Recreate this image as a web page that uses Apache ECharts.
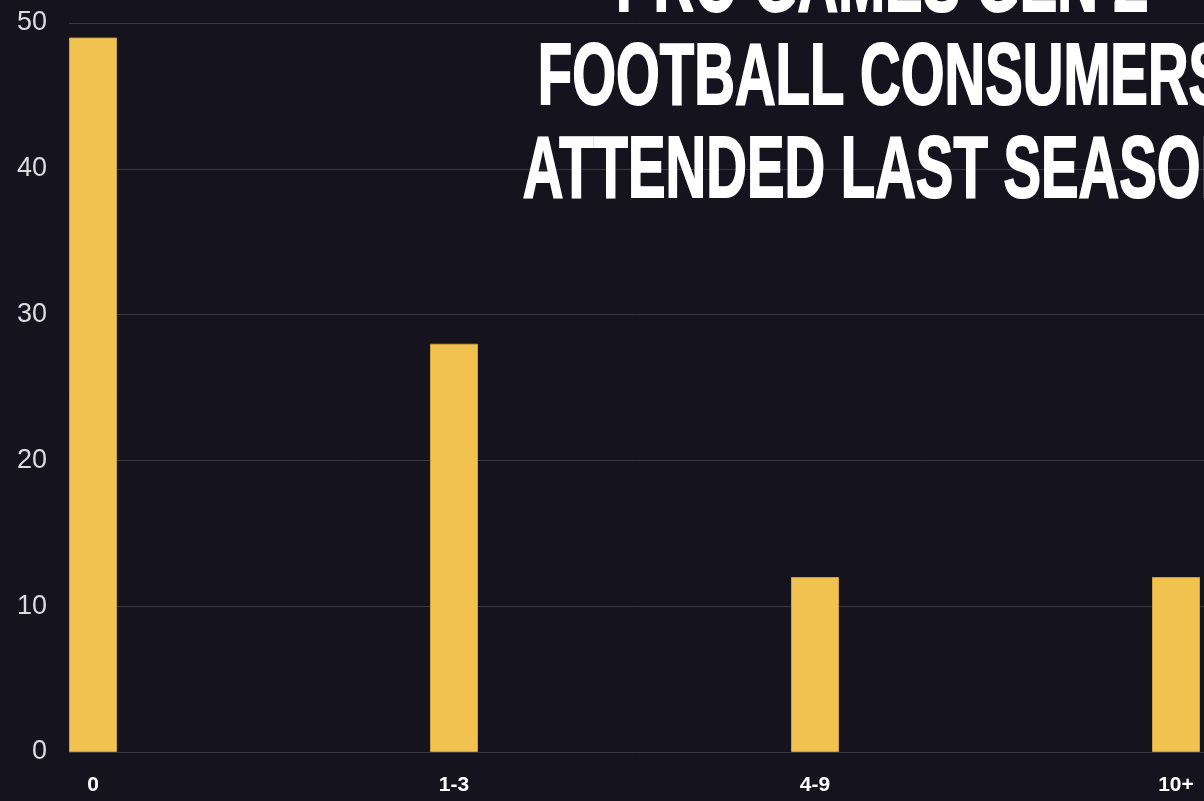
<!DOCTYPE html>
<html>
<head>
<meta charset="utf-8">
<script src="https://cdn.jsdelivr.net/npm/echarts@6/dist/echarts.min.js"></script>
<style>
  html, body { margin: 0; padding: 0; background: #14131e; }
  #chart { width: 1204px; height: 801px; }
</style>
</head>
<body>
<div id="chart"></div>
<script>
// Pro games attended last season by Gen Z football consumers (%)
const categories = ['0', '1-3', '4-9', '10+'];
const shares = [49, 28, 12, 12];
const yTicks = { min: 0, max: 50, interval: 10 };
const titleLines = ['PRO GAMES GEN Z', 'FOOTBALL CONSUMERS', 'ATTENDED LAST SEASON'];

const chart = echarts.init(document.getElementById('chart'));

const titleFont = 'bold 88px "Liberation Sans", Arial, sans-serif';
const titleGraphics = titleLines.map((t, i) => ({
  type: 'text',
  x: 882,
  y: -13 + i * 93,
  scaleX: 0.64,
  z: 100,
  style: {
    text: t,
    font: titleFont,
    fill: '#ffffff',
    stroke: '#ffffff',
    lineWidth: 2,
    textAlign: 'center',
    textVerticalAlign: 'middle'
  }
}));

chart.setOption({
  backgroundColor: '#14131e',
  animation: false,
  grid: [
    { left: 93, right: 28, top: 23, bottom: 49 },
    { left: 69, right: 0, top: 23, bottom: 49 }
  ],
  xAxis: [
    {
      gridIndex: 0,
      type: 'category',
      data: categories,
      boundaryGap: false,
      axisLine: { show: false },
      axisTick: { show: false },
      splitLine: { show: false },
      axisLabel: {
        color: '#ffffff',
        fontFamily: '"Liberation Sans", Arial, sans-serif',
        fontWeight: 'bold',
        fontSize: 21,
        margin: 23,
        interval: 0
      }
    },
    { gridIndex: 1, type: 'value', show: false }
  ],
  yAxis: [
    {
      gridIndex: 0,
      type: 'value',
      min: yTicks.min, max: yTicks.max, interval: yTicks.interval,
      show: false,
      splitLine: { show: false }
    },
    {
      gridIndex: 1,
      type: 'value',
      min: yTicks.min, max: yTicks.max, interval: yTicks.interval,
      axisLine: { show: false },
      axisTick: { show: false },
      axisLabel: {
        color: '#dcdce0',
        fontFamily: '"Liberation Sans", Arial, sans-serif',
        fontSize: 27,
        margin: 22
      },
      splitLine: { lineStyle: { color: '#393846', width: 1 } }
    }
  ],
  series: [
    {
      type: 'bar',
      xAxisIndex: 0,
      yAxisIndex: 0,
      data: shares,
      barWidth: 48,
      itemStyle: { color: '#f1c24f', borderColor: '#cfa23c', borderWidth: 1 },
      z: 3
    }
  ],
  graphic: titleGraphics
});
</script>
</body>
</html>
